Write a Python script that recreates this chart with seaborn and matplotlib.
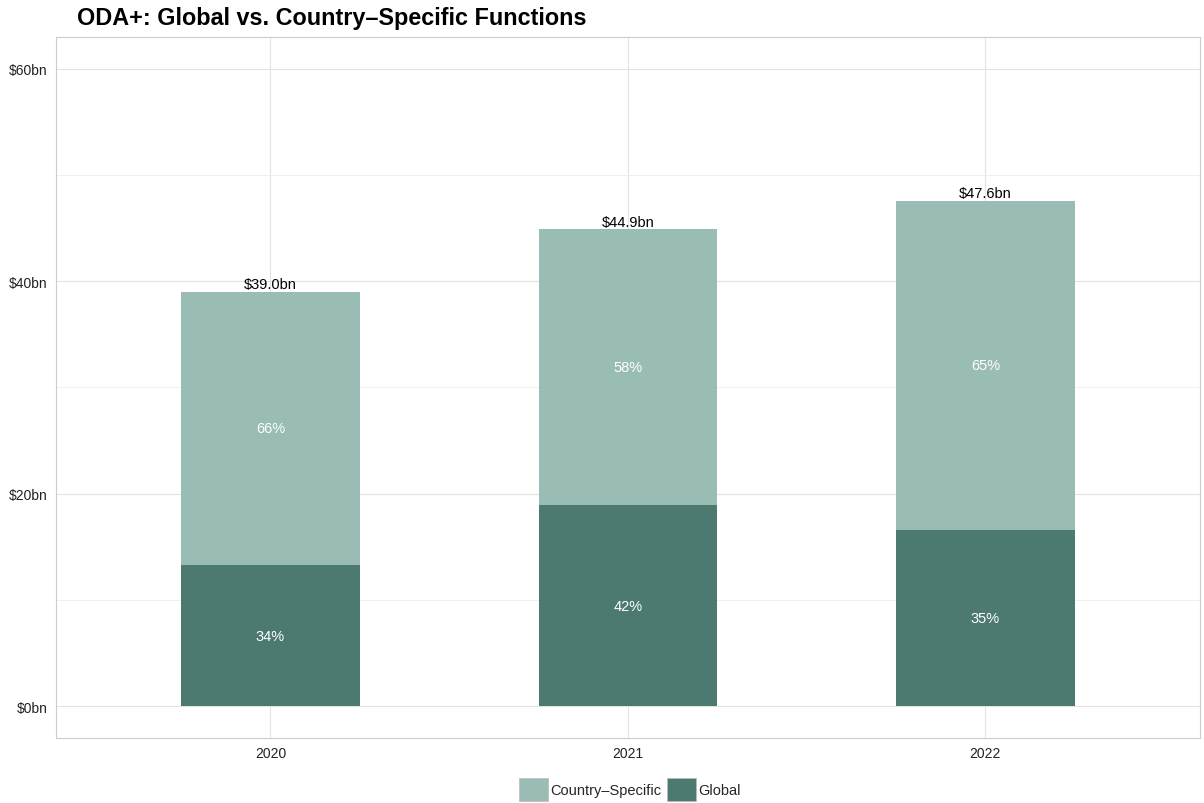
import matplotlib
matplotlib.use("Agg")
import matplotlib.pyplot as plt
from matplotlib.patches import Patch
from matplotlib.ticker import MultipleLocator, FuncFormatter
import seaborn as sns
import pandas as pd

years = ["2020", "2021", "2022"]
global_bn = [13.3, 18.9, 16.6]
country_bn = [25.7, 26.0, 31.0]
series_names = ["Country\u2013Specific", "Global"]
colors = {"Country\u2013Specific": "#99bcb4", "Global": "#4c7a71"}

totals = [g + c for g, c in zip(global_bn, country_bn)]
df = pd.DataFrame({"year": years, "global": global_bn, "country": country_bn, "total": totals})

sns.set_theme(style="white")
plt.rcParams["font.family"] = ["Liberation Sans", "DejaVu Sans"]

fig = plt.figure(figsize=(12.04, 8.04), dpi=100)
ax = fig.add_axes([0.0465, 0.0808, 0.950, 0.872])

sns.barplot(data=df, x="year", y="total", color=colors["Country\u2013Specific"],
            width=0.5, saturation=1, ax=ax, zorder=3, linewidth=0)
sns.barplot(data=df, x="year", y="global", color=colors["Global"],
            width=0.5, saturation=1, ax=ax, zorder=4, linewidth=0)

for i, (g, c, t) in enumerate(zip(global_bn, country_bn, totals)):
    ax.text(i, g / 2, f"{round(100 * g / t)}%", ha="center", va="center",
            color="white", fontsize=10.5, zorder=5)
    ax.text(i, g + c / 2, f"{round(100 * c / t)}%", ha="center", va="center",
            color="white", fontsize=10.5, zorder=5)
    ax.text(i, t + 0.05, f"${t:.1f}bn", ha="center", va="bottom",
            color="black", fontsize=10.5, zorder=5)

ax.set_xlim(-0.6, 2.6)
ax.set_ylim(-3, 63)
ax.yaxis.set_major_locator(MultipleLocator(20))
ax.yaxis.set_minor_locator(MultipleLocator(10))
ax.yaxis.set_major_formatter(FuncFormatter(lambda v, p: f"${v:.0f}bn"))
ax.grid(True, which="major", color="#e3e3e3", linewidth=0.8, zorder=0)
ax.grid(True, which="minor", axis="y", color="#ececec", linewidth=0.6, zorder=0)
ax.set_axisbelow(True)
ax.tick_params(axis="both", which="both", length=0, labelsize=10, colors="#222222", pad=6)
ax.set_xlabel("")
ax.set_ylabel("")
for s in ax.spines.values():
    s.set_visible(True)
    s.set_color("#cccccc")
    s.set_linewidth(0.8)

fig.text(0.064, 0.977, "ODA+: Global vs. Country\u2013Specific Functions",
         fontsize=16.8, fontweight="bold", ha="left", va="center", color="black")

handles = [Patch(facecolor=colors[n], edgecolor="#bbbbbb", linewidth=0.5, label=n) for n in series_names]
fig.legend(handles=handles, loc="center", bbox_to_anchor=(0.523, 0.017), ncol=2,
           frameon=False, fontsize=10.5, handlelength=2.0, handleheight=2.0,
           handletextpad=0.15, columnspacing=0.4)

fig.savefig("out.png", dpi=100)
